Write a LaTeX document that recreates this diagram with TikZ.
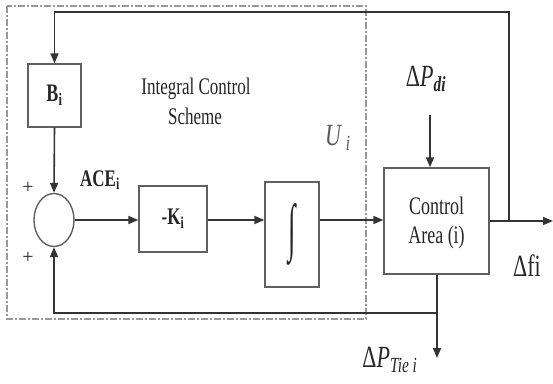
\documentclass[tikz,border=0pt]{standalone}
\usepackage{fontspec}
\usepackage{graphicx}
\setmainfont{Liberation Serif}
\usetikzlibrary{arrows.meta,shapes.geometric}
\newcommand\vs[1]{\scalebox{1}[1.4]{#1}}
\tikzset{
  blk/.style={draw=gray!75!black, line width=1.4pt, fill=white, inner sep=0pt},
  conn/.style={draw=black!80, line width=1.6pt},
  arr/.style={conn, -{Triangle[length=10pt,width=8pt]}},
  lbl/.style={inner sep=0pt, text=black!85},
  big/.style={lbl, font=\fontsize{22}{24}\selectfont},
  mid/.style={lbl, font=\fontsize{17}{19}\selectfont},
  frame/.style={draw=gray!80, line width=1.8pt, dash pattern=on 7pt off 2pt on 2pt off 2pt}
}
\begin{document}
\begin{tikzpicture}[x=1pt,y=-1pt]
\useasboundingbox (0,0) rectangle (553,383);
% dashed frame
\draw[frame] (7,6) rectangle (366,319);
% blocks
\node[blk, minimum width=53pt, minimum height=63pt] (B) at (54.5,95.5) {};
\node[mid, font=\fontsize{18}{20}\selectfont\bfseries] (Bt) at (B) {\vs{B\textsubscript{i}}};
\node[draw=gray!75!black, line width=1.4pt, ellipse, minimum width=40pt, minimum height=53pt, inner sep=0pt] (S) at (54,220) {};
\node[blk, minimum width=68pt, minimum height=66pt] (K) at (173,219) {};
\node[mid, font=\fontsize{17}{19}\selectfont\bfseries] (Kt) at (K) {\vs{-K\textsubscript{i}}};
\node[blk, minimum width=54pt, minimum height=105pt] (I) at (292,234.5) {};
\node[lbl] (It) at (I) {\scalebox{0.9}[2.1]{\fontsize{30}{30}\selectfont ∫}};
\node[blk, minimum width=105pt, minimum height=106pt] (C) at (436.5,221) {};
\node[mid, font=\fontsize{18}{20}\selectfont] (C1) at (436.5,206) {\vs{Control}};
\node[mid, font=\fontsize{18}{20}\selectfont] (C2) at (436.5,237) {\vs{Area (i)}};
% coordinates
\coordinate (top) at (509,12);
\coordinate (tl) at (54.5,12);
\coordinate (jo) at (509,221);
\coordinate (out) at (553,221);
\coordinate (pin) at (430,115);
\coordinate (jb) at (437,313);
\coordinate (bl) at (54,313);
\coordinate (tieend) at (437,358);
% connectors
\draw[conn] (C.east |- jo) -- (jo);
\draw[arr] (jo) -- (out);
\draw[arr] (jo) -- (top) -- (tl) -- (B.north);
\draw[arr] (B.south) -- (S.north);
\draw[arr] (S.east) -- (K.west |- S.east);
\draw[arr] (K.east |- S.east) -- (I.west |- S.east);
\draw[arr] (I.east |- S.east) -- (C.west |- S.east);
\draw[arr] (pin) -- (pin |- C.north);
\draw[conn] (C.south -| jb) -- (jb);
\draw[arr] (jb) -- (tieend);
\draw[arr] (jb) -- (bl) -- (S.south);
% labels
\node[mid] (t1) at (196,89) {\vs{Integral Control}};
\node[mid] (t2) at (195,116) {\vs{Scheme}};
\node[mid, font=\fontsize{17}{19}\selectfont\bfseries] (ace) at (100,180) {\vs{ACE\textsubscript{i}}};
\node[mid, font=\fontsize{20}{20}\selectfont] (p1) at (28,188) {+};
\node[mid, font=\fontsize{20}{20}\selectfont] (p2) at (28,258) {+};
\node[big, text=black!65] (U) at (338,138) {\vs{\textit{U}\,\textsubscript{\textit{i}}}};
\node[big] (Pd) at (426,79) {\vs{Δ\textit{P}\textsubscript{\textbf{\textit{di}}}}};
\node[big] (df) at (527,266) {\vs{Δfi}};
\node[big] (Pt) at (390,360) {\vs{Δ\textit{P}\textsubscript{\textit{Tie i}}}};
\end{tikzpicture}
\end{document}
